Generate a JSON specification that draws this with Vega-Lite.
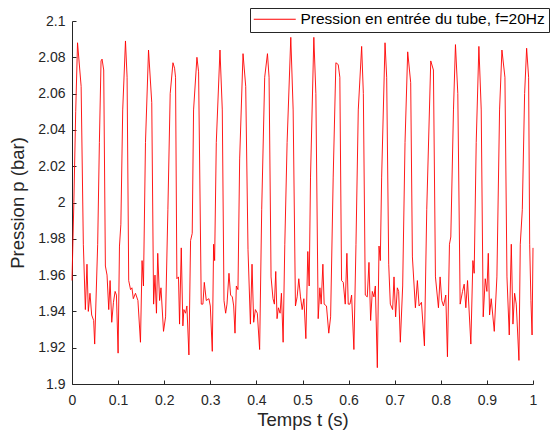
{
  "$schema": "https://vega.github.io/schema/vega-lite/v6.json",
  "width": 461,
  "height": 363,
  "autosize": {"type": "none"},
  "padding": {"left": 72, "top": 21, "right": 20, "bottom": 50},
  "background": "white",
  "config": {"view": {"stroke": null}, "font": "Liberation Sans"},
  "data": {"values": [
    {"t": 0, "p": 1.957}, {"t": 0.004, "p": 2.0}, {"t": 0.008, "p": 2.05}, {"t": 0.012, "p": 2.088},
    {"t": 0.0198, "p": 2.064}, {"t": 0.0246, "p": 1.977}, {"t": 0.029, "p": 1.941}, {"t": 0.0325, "p": 1.966},
    {"t": 0.0354, "p": 1.94}, {"t": 0.039, "p": 1.95}, {"t": 0.0427, "p": 1.938}, {"t": 0.047, "p": 1.935},
    {"t": 0.0492, "p": 1.922}, {"t": 0.0557, "p": 1.977}, {"t": 0.0594, "p": 2.033}, {"t": 0.063, "p": 2.078},
    {"t": 0.0652, "p": 2.079}, {"t": 0.0688, "p": 2.073}, {"t": 0.0724, "p": 1.965}, {"t": 0.076, "p": 1.96},
    {"t": 0.0797, "p": 1.941}, {"t": 0.0826, "p": 1.957}, {"t": 0.0862, "p": 1.934}, {"t": 0.0899, "p": 1.945},
    {"t": 0.0935, "p": 1.951}, {"t": 0.0964, "p": 1.949}, {"t": 0.1, "p": 1.917}, {"t": 0.103, "p": 1.976},
    {"t": 0.106, "p": 1.988}, {"t": 0.11, "p": 2.051}, {"t": 0.116, "p": 2.089}, {"t": 0.1195, "p": 2.069},
    {"t": 0.123, "p": 1.957}, {"t": 0.127, "p": 1.952}, {"t": 0.13, "p": 1.953}, {"t": 0.133, "p": 1.947},
    {"t": 0.1377, "p": 1.95}, {"t": 0.143, "p": 1.946}, {"t": 0.1485, "p": 1.923}, {"t": 0.152, "p": 1.968},
    {"t": 0.155, "p": 1.954}, {"t": 0.1594, "p": 2.033}, {"t": 0.166, "p": 2.084}, {"t": 0.173, "p": 2.055},
    {"t": 0.177, "p": 1.944}, {"t": 0.18, "p": 1.96}, {"t": 0.1832, "p": 1.939}, {"t": 0.186, "p": 1.972},
    {"t": 0.19, "p": 1.946}, {"t": 0.193, "p": 1.953}, {"t": 0.1985, "p": 1.929}, {"t": 0.203, "p": 1.937},
    {"t": 0.208, "p": 1.996}, {"t": 0.213, "p": 2.06}, {"t": 0.219, "p": 2.077}, {"t": 0.2225, "p": 2.074},
    {"t": 0.2246, "p": 2.069}, {"t": 0.2275, "p": 1.958}, {"t": 0.231, "p": 1.959}, {"t": 0.2333, "p": 1.933},
    {"t": 0.237, "p": 1.975}, {"t": 0.2405, "p": 1.932}, {"t": 0.2427, "p": 1.941}, {"t": 0.2463, "p": 1.939},
    {"t": 0.2492, "p": 1.943}, {"t": 0.2536, "p": 1.916}, {"t": 0.2572, "p": 1.979}, {"t": 0.2608, "p": 1.983},
    {"t": 0.2637, "p": 2.051}, {"t": 0.271, "p": 2.08}, {"t": 0.2746, "p": 2.072}, {"t": 0.2804, "p": 1.944},
    {"t": 0.284, "p": 1.944}, {"t": 0.287, "p": 1.956}, {"t": 0.2913, "p": 1.946}, {"t": 0.297, "p": 1.947},
    {"t": 0.3, "p": 1.943}, {"t": 0.3043, "p": 1.918}, {"t": 0.3072, "p": 1.977}, {"t": 0.3094, "p": 1.968},
    {"t": 0.313, "p": 2.033}, {"t": 0.321, "p": 2.084}, {"t": 0.326, "p": 2.051}, {"t": 0.3297, "p": 1.946},
    {"t": 0.3333, "p": 1.939}, {"t": 0.3362, "p": 1.944}, {"t": 0.3405, "p": 1.961}, {"t": 0.344, "p": 1.949},
    {"t": 0.3478, "p": 1.948}, {"t": 0.3507, "p": 1.943}, {"t": 0.3536, "p": 1.928}, {"t": 0.3565, "p": 1.954},
    {"t": 0.36, "p": 1.952}, {"t": 0.3637, "p": 2.024}, {"t": 0.371, "p": 2.082}, {"t": 0.3768, "p": 2.064},
    {"t": 0.3818, "p": 1.974}, {"t": 0.387, "p": 1.933}, {"t": 0.3905, "p": 1.966}, {"t": 0.3941, "p": 1.934},
    {"t": 0.3978, "p": 1.941}, {"t": 0.402, "p": 1.939}, {"t": 0.407, "p": 1.919}, {"t": 0.4115, "p": 1.996},
    {"t": 0.418, "p": 2.069}, {"t": 0.424, "p": 2.082}, {"t": 0.4275, "p": 2.069}, {"t": 0.4318, "p": 1.959},
    {"t": 0.436, "p": 1.947}, {"t": 0.439, "p": 1.944}, {"t": 0.442, "p": 1.962}, {"t": 0.4448, "p": 1.936},
    {"t": 0.4477, "p": 1.942}, {"t": 0.4514, "p": 1.939}, {"t": 0.4543, "p": 1.95}, {"t": 0.458, "p": 1.923},
    {"t": 0.4616, "p": 1.977}, {"t": 0.4666, "p": 2.033}, {"t": 0.4746, "p": 2.091}, {"t": 0.4797, "p": 2.051},
    {"t": 0.4847, "p": 1.943}, {"t": 0.4884, "p": 1.948}, {"t": 0.492, "p": 1.958}, {"t": 0.4956, "p": 1.948},
    {"t": 0.4993, "p": 1.941}, {"t": 0.503, "p": 1.947}, {"t": 0.5073, "p": 1.925}, {"t": 0.5115, "p": 1.973},
    {"t": 0.5145, "p": 1.954}, {"t": 0.5174, "p": 2.014}, {"t": 0.5246, "p": 2.091}, {"t": 0.529, "p": 2.06},
    {"t": 0.534, "p": 1.936}, {"t": 0.5377, "p": 1.953}, {"t": 0.5405, "p": 1.944}, {"t": 0.5442, "p": 1.966},
    {"t": 0.547, "p": 1.944}, {"t": 0.552, "p": 1.943}, {"t": 0.557, "p": 1.928}, {"t": 0.561, "p": 1.937},
    {"t": 0.5666, "p": 2.014}, {"t": 0.5724, "p": 2.077}, {"t": 0.5775, "p": 2.076}, {"t": 0.581, "p": 2.069},
    {"t": 0.5847, "p": 1.957}, {"t": 0.5884, "p": 1.956}, {"t": 0.5927, "p": 1.944}, {"t": 0.5963, "p": 1.972},
    {"t": 0.5992, "p": 1.944}, {"t": 0.603, "p": 1.944}, {"t": 0.6065, "p": 1.949}, {"t": 0.6115, "p": 1.919},
    {"t": 0.616, "p": 1.977}, {"t": 0.621, "p": 2.051}, {"t": 0.6283, "p": 2.086}, {"t": 0.632, "p": 2.06},
    {"t": 0.6362, "p": 1.949}, {"t": 0.6405, "p": 1.948}, {"t": 0.6442, "p": 1.967}, {"t": 0.6478, "p": 1.935},
    {"t": 0.6514, "p": 1.951}, {"t": 0.655, "p": 1.948}, {"t": 0.658, "p": 1.954}, {"t": 0.6623, "p": 1.909},
    {"t": 0.666, "p": 1.976}, {"t": 0.6688, "p": 1.968}, {"t": 0.6717, "p": 2.014}, {"t": 0.679, "p": 2.088},
    {"t": 0.6826, "p": 2.069}, {"t": 0.687, "p": 1.966}, {"t": 0.6905, "p": 1.944}, {"t": 0.6955, "p": 1.941},
    {"t": 0.6985, "p": 1.959}, {"t": 0.702, "p": 1.937}, {"t": 0.7057, "p": 1.953}, {"t": 0.7086, "p": 1.951},
    {"t": 0.7122, "p": 1.923}, {"t": 0.7173, "p": 1.954}, {"t": 0.7224, "p": 2.033}, {"t": 0.7282, "p": 2.083},
    {"t": 0.7347, "p": 2.066}, {"t": 0.7384, "p": 1.97}, {"t": 0.7449, "p": 1.942}, {"t": 0.7492, "p": 1.957},
    {"t": 0.7529, "p": 1.943}, {"t": 0.758, "p": 1.945}, {"t": 0.7645, "p": 1.921}, {"t": 0.7695, "p": 1.996},
    {"t": 0.7782, "p": 2.078}, {"t": 0.784, "p": 2.073}, {"t": 0.7884, "p": 1.959}, {"t": 0.7949, "p": 1.942},
    {"t": 0.7985, "p": 1.959}, {"t": 0.8021, "p": 1.946}, {"t": 0.8058, "p": 1.943}, {"t": 0.8108, "p": 1.949},
    {"t": 0.8144, "p": 1.915}, {"t": 0.8188, "p": 1.977}, {"t": 0.8217, "p": 1.981}, {"t": 0.8275, "p": 2.051},
    {"t": 0.8318, "p": 2.087}, {"t": 0.8369, "p": 2.06}, {"t": 0.842, "p": 1.944}, {"t": 0.8471, "p": 1.951},
    {"t": 0.8507, "p": 1.955}, {"t": 0.8543, "p": 1.942}, {"t": 0.858, "p": 1.957}, {"t": 0.8652, "p": 1.922},
    {"t": 0.8696, "p": 1.968}, {"t": 0.8724, "p": 1.961}, {"t": 0.8768, "p": 2.033}, {"t": 0.8826, "p": 2.086},
    {"t": 0.8877, "p": 2.051}, {"t": 0.892, "p": 1.937}, {"t": 0.8964, "p": 1.958}, {"t": 0.9, "p": 1.951},
    {"t": 0.903, "p": 1.972}, {"t": 0.9058, "p": 1.938}, {"t": 0.9094, "p": 1.947}, {"t": 0.916, "p": 1.929},
    {"t": 0.9217, "p": 1.959}, {"t": 0.9275, "p": 2.051}, {"t": 0.9326, "p": 2.084}, {"t": 0.9391, "p": 2.069},
    {"t": 0.9435, "p": 1.959}, {"t": 0.9485, "p": 1.927}, {"t": 0.9529, "p": 1.977}, {"t": 0.9565, "p": 1.933},
    {"t": 0.9601, "p": 1.95}, {"t": 0.9637, "p": 1.944}, {"t": 0.9695, "p": 1.913}, {"t": 0.9724, "p": 1.977},
    {"t": 0.9768, "p": 1.996}, {"t": 0.9818, "p": 2.06}, {"t": 0.9862, "p": 2.085}, {"t": 0.9905, "p": 2.069},
    {"t": 0.9928, "p": 1.977}, {"t": 0.9955, "p": 1.946}, {"t": 0.998, "p": 1.927}, {"t": 1.0, "p": 1.975}
  ]},
  "mark": {"type": "line", "strokeWidth": 0.9, "interpolate": "linear"},
  "encoding": {
    "x": {
      "field": "t", "type": "quantitative",
      "scale": {"domain": [0, 1], "nice": false, "zero": false},
      "axis": {
        "title": "Temps t (s)", "values": [0, 0.1, 0.2, 0.3, 0.4, 0.5, 0.6, 0.7, 0.8, 0.9, 1],
        "format": "~g", "grid": false, "domainColor": "#262626", "tickColor": "#262626",
        "tickSize": -4, "labelColor": "#262626", "labelFontSize": 14, "labelPadding": 13,
        "labelFlush": false, "titleFontSize": 18.5, "titleFontWeight": "normal", "titleColor": "#262626",
        "titlePadding": 3
      }
    },
    "y": {
      "field": "p", "type": "quantitative",
      "scale": {"domain": [1.9, 2.1], "nice": false, "zero": false},
      "axis": {
        "title": "Pression p (bar)", "values": [1.9, 1.92, 1.94, 1.96, 1.98, 2, 2.02, 2.04, 2.06, 2.08, 2.1],
        "format": "~g", "grid": false, "domainColor": "#262626", "tickColor": "#262626",
        "tickSize": -4, "labelColor": "#262626", "labelFontSize": 14, "labelPadding": 11,
        "labelFlush": false, "titleFontSize": 18.5, "titleFontWeight": "normal", "titleColor": "#262626",
        "titlePadding": 10
      }
    },
    "color": {
      "datum": "Pression en entrée du tube, f=20Hz", "type": "nominal",
      "scale": {"range": ["#ff0000"]},
      "legend": {
        "orient": "none", "legendX": 178, "legendY": -13, "title": null,
        "symbolType": "M-3,0H3", "symbolSize": 196, "symbolStrokeWidth": 1, "symbolOffset": 13.5,
        "labelOffset": 18, "labelFontSize": 15.5, "labelColor": "black", "labelLimit": 400,
        "padding": 3.5, "strokeColor": "#262626", "fillColor": "white", "cornerRadius": 0
      }
    }
  }
}
